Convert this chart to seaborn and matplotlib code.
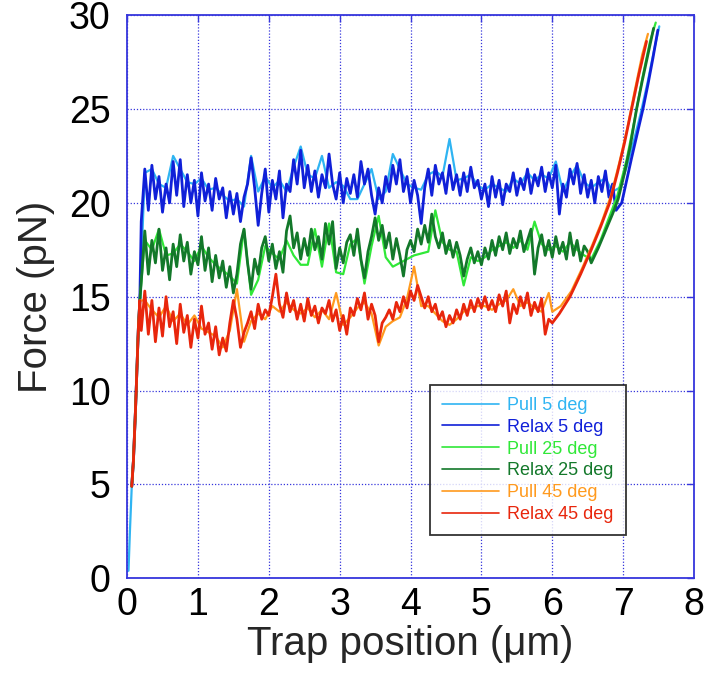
import numpy as np
import pandas as pd
import matplotlib
matplotlib.use("Agg")
import matplotlib.pyplot as plt
import seaborn as sns

# ---- data (trap position in um, force in pN) ----
rise_x = [0.02, 0.04, 0.066, 0.09, 0.12, 0.14, 0.16, 0.18]
rise_f = [0.4, 2.5, 4.9, 6.3, 9.1, 11.3, 13.4, 14.8]

# plateaus are sampled every 0.05 um (relax) / 0.1 um (pull)
relax5_f = [19.0, 21.8, 19.6, 22.0, 20.2, 21.4, 19.5, 21.0, 20.0, 22.2,
            20.4, 22.3, 19.8, 21.5, 20.0, 21.2, 19.3, 21.6, 20.1, 21.0,
            19.6, 21.3, 20.2, 20.8, 19.2, 20.6, 19.4, 20.5, 19.0, 20.3,
            21.0, 22.4, 20.8, 18.8, 20.5, 21.8, 19.5, 21.2, 20.2, 21.7,
            19.2, 21.0, 20.6, 22.3, 21.0, 22.8, 20.8, 22.0, 20.6, 21.7,
            20.3, 21.5, 20.8, 22.6, 21.0, 20.2, 21.6, 20.0, 21.3, 20.5,
            21.5, 20.3, 22.2, 21.0, 21.8, 20.4, 19.4, 20.8, 20.0, 21.4,
            20.6, 22.0, 21.0, 22.3, 20.6, 21.4, 20.0, 21.2, 20.4, 18.9,
            20.8, 21.8, 20.4, 22.0, 21.0, 21.6, 20.5, 22.0, 20.7, 21.5,
            20.4, 21.6, 20.6, 21.9, 20.8, 21.2, 20.2, 21.0, 19.8, 21.4,
            20.3, 21.2, 19.9, 21.0, 20.6, 21.6, 20.4, 21.3, 20.7, 21.8,
            20.5, 21.5, 20.9, 21.9, 20.6, 21.6, 20.8, 22.0, 19.4, 21.0,
            20.3, 21.8, 21.0, 22.1, 20.5, 21.5, 20.3, 21.2, 20.0, 21.4,
            20.6, 21.7, 20.3, 21.0]
relax5_sx = [6.90, 6.98, 7.05, 7.12, 7.20, 7.28, 7.35, 7.42, 7.49]
relax5_sf = [19.6, 20.0, 21.2, 22.4, 23.7, 25.0, 26.3, 27.7, 29.2]

pull5_f = [21.6, 21.8, 21.0, 20.8, 22.5, 21.8, 21.1, 21.0, 21.3, 20.7,
           20.8, 20.4, 20.1, 20.2, 19.8, 22.5, 20.6, 21.4, 20.8, 21.2,
           20.6, 21.9, 23.0, 21.5, 21.3, 22.5, 20.8, 21.1, 20.9, 20.2,
           20.2, 21.0, 21.8, 20.2, 20.6, 22.6, 21.8, 21.0, 20.8, 20.7,
           21.5, 21.7, 21.4, 23.4, 21.2, 21.3, 21.5, 20.9, 20.7, 21.0,
           20.8, 20.6, 21.3, 21.0, 21.6, 21.2, 21.5, 21.3, 22.2, 20.6,
           21.4, 22.0, 21.1, 20.8, 21.1, 21.3, 20.6]
pull5_sx = [6.95, 7.05, 7.15, 7.25, 7.35, 7.44, 7.51]
pull5_sf = [20.8, 21.9, 23.3, 24.8, 26.5, 28.2, 29.4]

relax25_f = [15.8, 18.5, 16.2, 18.0, 16.8, 18.6, 16.4, 17.6, 15.9, 17.8,
             16.6, 18.3, 16.9, 17.9, 16.2, 17.4, 16.7, 18.2, 16.4, 17.6,
             15.8, 17.2, 16.0, 16.9, 15.5, 16.6, 15.2, 16.2, 17.8, 18.6,
             16.8, 15.4, 17.0, 16.2, 17.6, 18.2, 16.9, 17.8, 16.5, 17.4,
             16.3, 18.5, 19.3, 17.6, 18.4, 17.0, 18.1, 17.2, 18.6, 17.5,
             18.2, 17.0, 18.9, 17.8, 19.0, 16.5, 17.6, 16.8, 17.9, 18.3,
             17.2, 18.6, 17.0, 16.0, 17.4, 18.2, 19.2, 18.0, 18.8, 17.6,
             18.4, 17.0, 18.1, 17.2, 16.1, 17.5, 18.0, 17.4, 18.6, 17.8,
             18.8, 17.9, 19.4, 18.2, 17.6, 18.4, 17.3, 18.0, 17.1, 17.9,
             17.2, 16.1, 17.0, 17.6, 16.8, 17.4, 16.7, 17.6, 17.0, 18.0,
             17.2, 18.2, 17.5, 18.4, 17.3, 18.1, 17.6, 18.5, 17.4, 18.0,
             18.6, 16.2, 17.6, 18.3, 17.2, 18.0, 17.1, 18.2, 17.3, 17.9,
             17.0, 18.4, 17.2, 18.0, 16.9, 17.7, 17.4]
relax25_sx = [6.55, 6.65, 6.75, 6.85, 6.93, 7.02, 7.10, 7.19, 7.27, 7.35, 7.43]
relax25_sf = [16.8, 17.6, 18.5, 19.4, 20.2, 21.6, 23.0, 25.0, 26.5, 27.9, 29.3]

pull25_f = [18.0, 17.5, 18.6, 17.2, 17.3, 17.8, 17.4, 16.9, 17.7, 17.1,
            16.7, 16.4, 16.1, 15.7, 18.6, 15.1, 15.9, 17.7, 17.3, 17.0,
            18.0, 17.2, 16.7, 16.7, 18.6, 16.6, 18.9, 16.3, 16.2, 17.8,
            18.1, 15.7, 17.7, 19.3, 17.1, 16.6, 16.8, 17.0, 17.2, 17.3,
            17.4, 19.6, 17.9, 17.5, 17.4, 15.6, 17.1, 16.9, 17.1, 17.5,
            17.7, 17.9, 17.6, 18.0, 17.5, 19.0, 17.8, 17.5, 17.7, 17.4,
            17.9, 17.5, 17.2]
pull25_sx = [6.55, 6.68, 6.80, 6.92, 7.05, 7.17, 7.28, 7.38, 7.46]
pull25_sf = [17.0, 18.0, 19.2, 20.4, 22.3, 24.6, 26.8, 28.6, 29.6]

relax45_f = [13.2, 15.3, 13.0, 14.8, 12.6, 14.4, 12.9, 15.0, 13.4, 14.2,
             12.5, 14.6, 13.1, 14.0, 12.3, 13.8, 12.8, 14.5, 13.0, 13.6,
             12.2, 13.4, 11.9, 12.8, 12.1, 13.6, 14.8, 13.8, 12.3, 13.1,
             13.6, 14.2, 13.3, 14.6, 13.8, 14.3, 14.0, 15.0, 16.2, 14.6,
             13.9, 15.2, 14.2, 14.8, 13.8, 14.6, 13.7, 14.9, 14.0, 14.5,
             13.6, 14.4, 14.1, 14.8, 13.7, 14.3, 13.2, 14.0, 13.0, 14.4,
             14.0, 14.9, 14.3, 15.2, 13.8, 14.6, 14.0, 12.6, 13.6, 13.9,
             14.3, 13.8, 14.7, 14.2, 15.0, 14.4, 15.3, 14.8, 15.6, 15.0,
             14.4, 15.0, 14.2, 14.6, 13.8, 14.2, 13.4, 14.0, 13.6, 14.3,
             13.8, 14.6, 14.0, 14.8, 14.2, 14.9, 14.4, 15.0, 14.3, 14.8,
             14.2, 15.1, 14.5, 15.3, 13.6, 14.6, 14.1, 15.0, 14.4, 15.2,
             14.0, 14.7, 14.2, 14.9, 13.0, 13.8]
relax45_sx = [6.00, 6.10, 6.25, 6.40, 6.55, 6.68, 6.81, 6.92, 7.02, 7.12, 7.22, 7.33]
relax45_sf = [13.6, 14.1, 15.0, 16.2, 17.5, 18.7, 20.0, 21.6, 23.2, 25.0, 26.8, 28.6]

pull45_f = [14.8, 14.3, 13.9, 14.5, 13.7, 14.1, 13.5, 14.0, 13.3, 13.1,
            12.9, 12.3, 13.2, 15.4, 12.6, 13.7, 14.1, 13.8, 14.5, 14.2,
            14.7, 14.3, 14.1, 14.4, 13.9, 14.3, 13.8, 15.2, 13.5, 13.9,
            14.4, 14.7, 14.1, 12.4, 13.4, 13.7, 13.9, 14.9, 16.6, 14.5,
            14.5, 14.1, 13.7, 13.5, 13.8, 14.2, 14.4, 14.5, 14.5, 14.3,
            14.6, 14.8, 15.4, 14.5, 14.7, 14.4, 14.2, 15.2]
pull45_sx = [6.00, 6.12, 6.27, 6.42, 6.57, 6.70, 6.83, 6.95, 7.06, 7.16, 7.27, 7.35]
pull45_sf = [14.2, 14.5, 15.3, 16.5, 17.8, 19.0, 20.4, 22.2, 24.0, 25.9, 27.9, 29.0]

labels = ["Pull 5 deg", "Relax 5 deg", "Pull 25 deg",
          "Relax 25 deg", "Pull 45 deg", "Relax 45 deg"]
colors = ["#2fb4f2", "#1020d8", "#30e838", "#13782a", "#ff9a1e", "#e8260c"]
widths = [1.6, 2.0, 1.6, 2.0, 1.6, 2.0]


def grid_x(start, step, n):
    return list(np.round(start + step * np.arange(n), 3))


def build(plateau_start, step, plateau_f, sx, sf, rise_from):
    x = rise_x[rise_from:] + grid_x(plateau_start, step, len(plateau_f)) + sx
    f = rise_f[rise_from:] + plateau_f + sf
    return x, f


series = [
    build(0.25, 0.1, pull5_f, pull5_sx, pull5_sf, 0),
    build(0.20, 0.05, relax5_f, relax5_sx, relax5_sf, 2),
    build(0.25, 0.1, pull25_f, pull25_sx, pull25_sf, 2),
    build(0.20, 0.05, relax25_f, relax25_sx, relax25_sf, 2),
    build(0.25, 0.1, pull45_f, pull45_sx, pull45_sf, 2),
    build(0.20, 0.05, relax45_f, relax45_sx, relax45_sf, 2),
]

frames = []
for lab, (x, f) in zip(labels, series):
    frames.append(pd.DataFrame({"x": x, "F": f, "curve": lab}))
df = pd.concat(frames, ignore_index=True)

sns.set_style("white")
plt.rcParams["font.family"] = ["Liberation Sans", "DejaVu Sans"]

fig = plt.figure(figsize=(7.06, 6.86), dpi=100)
ax = fig.add_axes([0.180, 0.157, 0.803, 0.821])

axis_blue = "#3636dc"
ax.grid(True, color=axis_blue, linestyle=(0, (1, 1.5)), linewidth=0.9)
ax.set_axisbelow(True)

for lab, col, lw in zip(labels, colors, widths):
    sns.lineplot(data=df[df["curve"] == lab], x="x", y="F", sort=False,
                 estimator=None, color=col, linewidth=lw, label=lab, ax=ax)

ax.set_xlim(0, 8)
ax.set_ylim(0, 30)
ax.set_xticks(range(0, 9))
ax.set_yticks(range(0, 31, 5))
for sp in ax.spines.values():
    sp.set_color(axis_blue)
    sp.set_linewidth(1.3)
ax.tick_params(direction="in", length=5, width=1, color=axis_blue,
               labelsize=27, labelcolor="black", top=True, right=True,
               labeltop=False, labelright=False)
ax.tick_params(axis="y", pad=12)
ax.tick_params(axis="x", pad=6)
ax.set_xlabel("Trap position (\u03bcm)", fontsize=29, labelpad=2)
ax.set_ylabel("Force (pN)", fontsize=29, labelpad=10)

leg = ax.legend(loc="upper left", bbox_to_anchor=(0.534, 0.343), borderaxespad=0,
                fontsize=13, frameon=True, fancybox=False, edgecolor="black",
                handlelength=3.2, handletextpad=0.45, labelspacing=0.27,
                borderpad=0.65)
leg.get_frame().set_linewidth(1.3)
for line in leg.get_lines():
    line.set_linewidth(1.2)
for txt, col in zip(leg.get_texts(), colors):
    txt.set_color(col)

fig.savefig("out.png", dpi=100)
